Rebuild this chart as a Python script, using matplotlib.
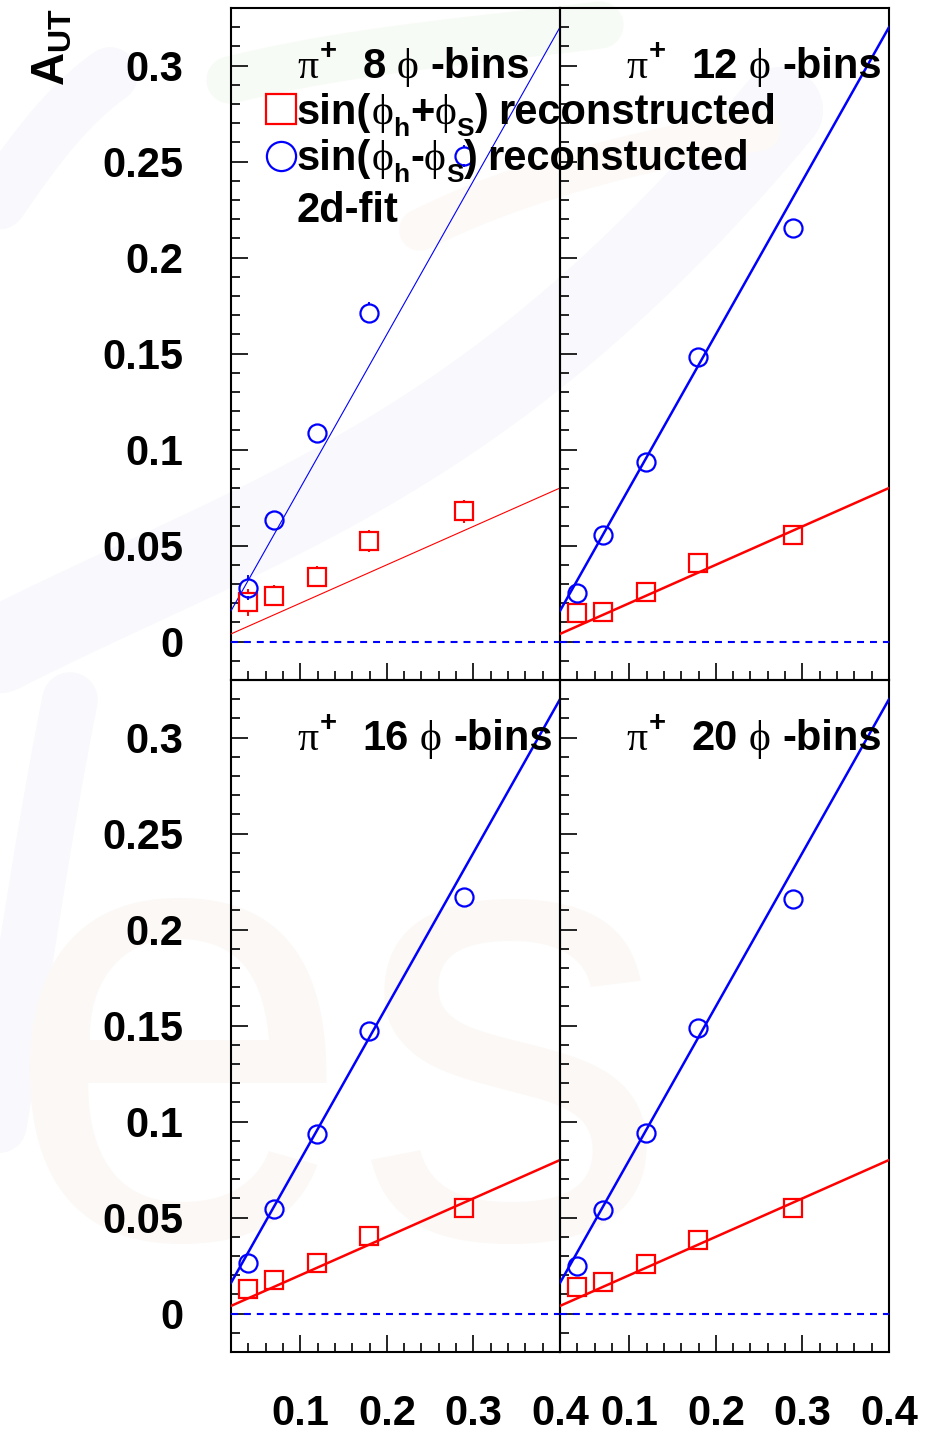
import matplotlib
matplotlib.use("Agg")
import matplotlib.pyplot as plt
import numpy as np
from matplotlib.ticker import FixedLocator, MultipleLocator, FuncFormatter

# ---------------------------------------------------------------- data
x_bins = [0.0395, 0.0695, 0.1195, 0.1795, 0.289]
phi_bins = ["8", "12", "16", "20"]

# reconstructed sin(phi_h + phi_S) amplitudes
sum_8 = [0.0205, 0.0240, 0.0339, 0.0523, 0.0678]
sum_12 = [0.0151, 0.0155, 0.0256, 0.0408, 0.0553]
sum_16 = [0.0129, 0.0177, 0.0262, 0.0402, 0.0551]
sum_20 = [0.0141, 0.0163, 0.0259, 0.0381, 0.0551]
err_sum_8 = [0.0065, 0.0050, 0.0050, 0.0052, 0.0055]
err_sum = [0.0042, 0.0042, 0.0042, 0.0042, 0.0044]

# reconstructed sin(phi_h - phi_S) amplitudes
diff_8 = [0.0280, 0.0635, 0.1087, 0.1713, 0.2530]
diff_12 = [0.0252, 0.0553, 0.0935, 0.1483, 0.2156]
diff_16 = [0.0264, 0.0544, 0.0934, 0.1473, 0.2172]
diff_20 = [0.0249, 0.0537, 0.0943, 0.1488, 0.2160]
err_diff_8 = [0.0060, 0.0045, 0.0048, 0.0050, 0.0052]
err_diff = [0.0042, 0.0042, 0.0042, 0.0044, 0.0044]

# generated (input) asymmetries: A = slope * x
slope_sum = 0.2
slope_diff = 0.8
x_line = [0.02, 0.4]

x_ticks = [0.1, 0.2, 0.3, 0.4]
y_ticks = [0, 0.05, 0.1, 0.15, 0.2, 0.25, 0.3]
x_range = (0.02, 0.4)
y_range = (-0.02, 0.33)

# ---------------------------------------------------------------- style
W, H, DPI = 927, 1433, 100
plt.rcParams["font.family"] = ["Liberation Sans", "DejaVu Sans"]
plt.rcParams["font.weight"] = "bold"
plt.rcParams["mathtext.fontset"] = "custom"
plt.rcParams["mathtext.bf"] = "Liberation Sans:bold"
plt.rcParams["mathtext.rm"] = "Liberation Sans:bold"
plt.rcParams["lines.scale_dashes"] = False

RED = "#ff0000"
BLUE = "#0000ff"
FS = 30
SANS = ["Liberation Sans", "DejaVu Sans"]
SERIF = ["Liberation Serif", "DejaVu Serif"]

fig = plt.figure(figsize=(W / DPI, H / DPI), dpi=DPI)
fig.patch.set_facecolor("white")

# ---------------------------------------------------------------- faint logo in the background
bg = fig.add_axes([0, 0, 1, 1], zorder=0)
bg.set_xlim(0, W)
bg.set_ylim(H, 0)
bg.axis("off")


def bezier(p0, p1, p2, p3, n=80):
    t = np.linspace(0, 1, n)[:, None]
    p0, p1, p2, p3 = map(np.asarray, (p0, p1, p2, p3))
    pts = (1 - t) ** 3 * p0 + 3 * (1 - t) ** 2 * t * p1 + 3 * (1 - t) * t ** 2 * p2 + t ** 3 * p3
    return pts[:, 0], pts[:, 1]


swoosh_blue = "#f8f8fd"
swoosh_green = "#f7fbf5"
swoosh_pink = "#fdf9f7"

bx, by = bezier((-20, 660), (250, 520), (480, 470), (780, 110))
bg.plot(bx, by, color=swoosh_blue, lw=62, solid_capstyle="round")
bx, by = bezier((-20, 230), (20, 170), (60, 110), (110, 75))
bg.plot(bx, by, color=swoosh_blue, lw=40, solid_capstyle="round")
bx, by = bezier((70, 700), (40, 850), (20, 1000), (-10, 1180))
bg.plot(bx, by, color=swoosh_blue, lw=40, solid_capstyle="round")
bx, by = bezier((230, 80), (350, 50), (480, 40), (600, 25))
bg.plot(bx, by, color=swoosh_green, lw=34, solid_capstyle="round")
bx, by = bezier((420, 230), (520, 180), (640, 150), (760, 130))
bg.plot(bx, by, color=swoosh_pink, lw=30, solid_capstyle="round")
bg.text(2, 1238, "es", fontsize=455, fontweight="normal", color="#fcf8f6",
        family=SANS, va="baseline", ha="left")

# ---------------------------------------------------------------- panels
panel_left = [231, 560]
panel_top = [8, 680]
PW, PH = 329, 672
px_per_unit = PH / (y_range[1] - y_range[0])
gap = 9.0 / px_per_unit  # half marker size, in data units

sums = [sum_8, sum_12, sum_16, sum_20]
diffs = [diff_8, diff_12, diff_16, diff_20]
sum_errs = [err_sum_8, err_sum, err_sum, err_sum]
diff_errs = [err_diff_8, err_diff, err_diff, err_diff]


def draw_points(ax, xs, ys, es, marker, color):
    ax.plot(xs, ys, ls="none", marker=marker, ms=13, mfc="none", mec=color,
            mew=1.6, zorder=4)
    for x, y, e in zip(xs, ys, es):
        if e > gap:
            ax.plot([x, x], [y + gap, y + e], color=color, lw=1.4, zorder=4)
            ax.plot([x, x], [y - e, y - gap], color=color, lw=1.4, zorder=4)


axes = []
for k in range(4):
    r, c = divmod(k, 2)
    ax = fig.add_axes([panel_left[c] / W, 1 - (panel_top[r] + PH) / H, PW / W, PH / H],
                      zorder=1)
    ax.patch.set_alpha(0)
    ax.set_xlim(*x_range)
    ax.set_ylim(*y_range)
    for sp in ax.spines.values():
        sp.set_linewidth(1.5)

    lw_fit = 0.8 if k == 0 else 1.8
    ax.plot(x_line, [slope_sum * v for v in x_line], color=RED, lw=lw_fit, zorder=3)
    ax.plot(x_line, [slope_diff * v for v in x_line], color=BLUE, lw=lw_fit, zorder=3)
    ax.plot(x_line, [0, 0], color=BLUE, lw=1.5, dashes=[5.0, 4.3], zorder=3)

    draw_points(ax, x_bins, sums[k], sum_errs[k], "s", RED)
    draw_points(ax, x_bins, diffs[k], diff_errs[k], "o", BLUE)

    ax.xaxis.set_major_locator(FixedLocator(x_ticks))
    ax.xaxis.set_minor_locator(MultipleLocator(0.02))
    ax.yaxis.set_major_locator(FixedLocator(y_ticks))
    ax.yaxis.set_minor_locator(MultipleLocator(0.01))
    ax.xaxis.set_major_formatter(FuncFormatter(lambda v, p: f"{v:g}"))
    ax.yaxis.set_major_formatter(FuncFormatter(lambda v, p: f"{v:g}"))
    ax.tick_params(which="both", direction="in", top=False, right=False,
                   width=1.2, labelsize=FS)
    ax.tick_params(which="major", length=12.5)
    ax.tick_params(which="minor", length=6.5)
    ax.tick_params(axis="x", pad=30, labelbottom=(r == 1))
    ax.tick_params(axis="y", pad=34.5, labelleft=(c == 0))
    axes.append(ax)

# ---------------------------------------------------------------- rich text labels
renderer = fig.canvas.get_renderer()
EM = FS * DPI / 72.0


def rich_text(x, y, runs):
    """runs: (text, family, size scale, baseline rise in em, gap before in em)"""
    cx = x
    for s, fam, scale, rise, pre in runs:
        cx += pre * EM
        weight = "bold" if fam is SANS else "normal"
        t = fig.text(cx / W, 1 - (y - rise * EM) / H, s, family=fam, fontweight=weight,
                     fontsize=FS * scale, va="baseline", ha="left", zorder=5)
        cx += t.get_window_extent(renderer).width


def title_runs(n):
    return [("π", SERIF, 1.0, 0.0, 0.0),
            ("+", SANS, 0.7, 0.45, 0.04),
            (n, SANS, 1.0, 0.0, 0.62),
            ("ϕ", SERIF, 1.0, 0.0, 0.26),
            ("-bins", SANS, 1.0, 0.0, 0.28)]


title_pos = [(297, 78), (626, 78), (297, 750), (626, 750)]
for n, (tx, ty) in zip(phi_bins, title_pos):
    rich_text(tx, ty, title_runs(n))


def legend_runs(sign, word):
    return [("sin(", SANS, 1.0, 0.0, 0.0),
            ("ϕ", SERIF, 1.0, 0.0, 0.0),
            ("h", SANS, 0.63, -0.3, 0.0),
            (sign, SANS, 1.0, 0.0, 0.02),
            ("ϕ", SERIF, 1.0, 0.0, 0.0),
            ("S", SANS, 0.63, -0.3, 0.0),
            (")", SANS, 1.0, 0.0, 0.02),
            (word, SANS, 1.0, 0.0, 0.22)]


rich_text(297, 124, legend_runs("+", "reconstructed"))
rich_text(297, 170, legend_runs("-", "reconstucted"))
rich_text(297, 222, [("2d-fit", SANS, 1.0, 0.0, 0.0)])

# legend markers
leg = fig.add_axes([0, 0, 1, 1], zorder=6)
leg.set_xlim(0, W)
leg.set_ylim(H, 0)
leg.axis("off")
leg.plot([281], [109], marker="s", ms=21, mfc="none", mec=RED, mew=1.6, ls="none")
leg.plot([281], [156], marker="o", ms=21, mfc="none", mec=BLUE, mew=1.6, ls="none")

# y-axis title
fig.text(53 / W, 1 - 8 / H, r"$\mathbf{A_{UT}}$", rotation=90, ha="center", va="top",
         fontsize=33)

fig.savefig("out.png", dpi=DPI)
